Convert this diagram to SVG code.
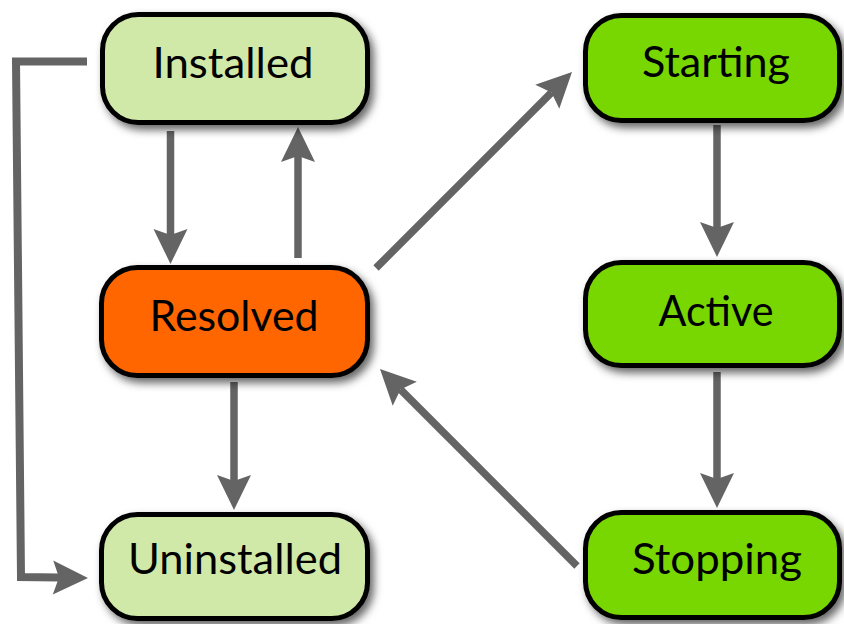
<svg xmlns="http://www.w3.org/2000/svg" width="844" height="624" viewBox="0 0 844 624">
  <style>
    .box { stroke: #000; stroke-width: 5; filter: url(#shadow); }
    .light { fill: #D0E9A9; }
    .orange { fill: #FF6600; }
    .green { fill: #78D700; }
    .label { font-family: Lato, "Open Sans", "Liberation Sans", sans-serif; font-size: 42px; fill: #000; text-anchor: middle; }
    .conn { fill: none; stroke: #646464; stroke-width: 7.5; marker-end: url(#arrow); }
    .elbow { fill: none; stroke: #646464; stroke-width: 8; stroke-linejoin: miter; marker-end: url(#arrow); }
  </style>
  <defs>
    <filter id="shadow" x="-20%" y="-20%" width="140%" height="150%">
      <feDropShadow dx="4" dy="5" stdDeviation="4.5" flood-color="#000" flood-opacity="0.6"/>
    </filter>
    <marker id="arrow" markerUnits="userSpaceOnUse" markerWidth="40" markerHeight="40" viewBox="-2 -20 40 40" refX="6" refY="0" orient="auto">
      <path d="M0,-17 L35,0 L0,17 L6,0 Z" fill="#646464"/>
    </marker>
  </defs>

  <g id="connectors">
    <path class="conn" d="M170.5,131 L170.5,235"/>
    <path class="conn" d="M298,258 L298,156"/>
    <path class="conn" d="M234,382 L234,481"/>
    <path class="elbow" d="M87,61.5 L16,61.5 L21,577 L59,577.5"/>
    <path class="conn" d="M376,268 L551.5,92.5"/>
    <path class="conn" d="M717,125 L717,228"/>
    <path class="conn" d="M717,372 L717,479"/>
    <path class="conn" d="M577,566 L400.5,389.5"/>
  </g>

  <g id="installed">
    <rect class="box light" x="102.5" y="14.5" width="265" height="108" rx="36" ry="36"/>
    <text class="label" x="233" y="78" textLength="161" lengthAdjust="spacingAndGlyphs">Installed</text>
  </g>
  <g id="resolved">
    <rect class="box orange" x="101.5" y="267.5" width="266" height="108" rx="36" ry="36"/>
    <text class="label" x="234" y="331" textLength="169" lengthAdjust="spacingAndGlyphs">Resolved</text>
  </g>
  <g id="uninstalled">
    <rect class="box light" x="101.5" y="514.5" width="266" height="104" rx="36" ry="36"/>
    <text class="label" x="235" y="574" textLength="214" lengthAdjust="spacingAndGlyphs">Uninstalled</text>
  </g>
  <g id="starting">
    <rect class="box green" x="585.5" y="15.5" width="254" height="105" rx="36" ry="36"/>
    <text class="label" x="716" y="77" textLength="148" lengthAdjust="spacingAndGlyphs">Starting</text>
  </g>
  <g id="active">
    <rect class="box green" x="585.5" y="262.5" width="254" height="103" rx="36" ry="36"/>
    <text class="label" x="716" y="326" textLength="115" lengthAdjust="spacingAndGlyphs">Active</text>
  </g>
  <g id="stopping">
    <rect class="box green" x="585.5" y="512.5" width="254" height="105" rx="36" ry="36"/>
    <text class="label" x="717" y="574" textLength="170" lengthAdjust="spacingAndGlyphs">Stopping</text>
  </g>
</svg>
